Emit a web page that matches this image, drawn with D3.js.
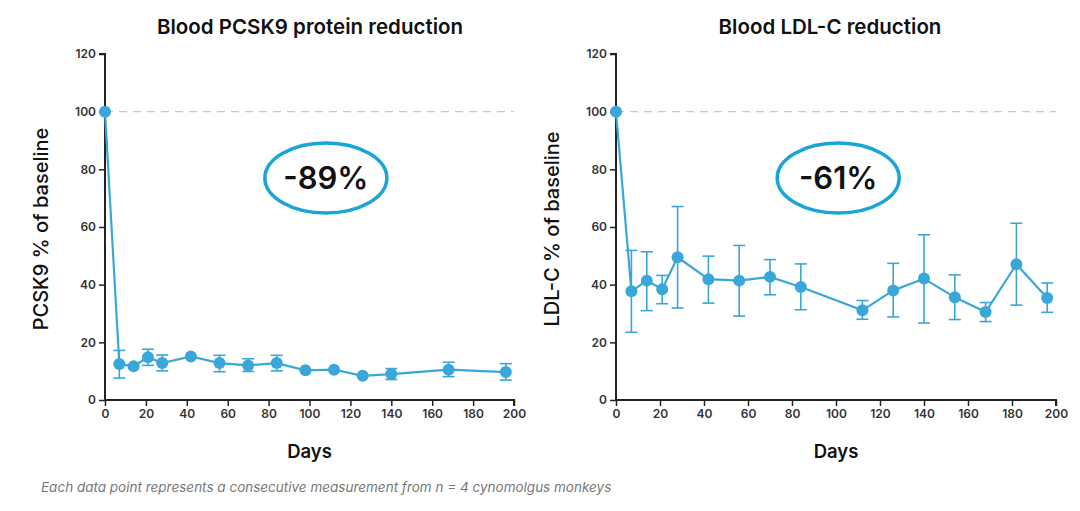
<!DOCTYPE html>
<html lang="en">
<head>
    <meta charset="UTF-8">
    <script src="https://d3js.org/d3.v7.min.js"></script>
    <style>
        body { margin: 0; background: #fff; }
        text { font-family: Inter, "Open Sans", sans-serif; }
    </style>
</head>
<body>
<div id="chart"></div>
<script>
    // days measured
    var pcskDays = [0, 7, 14, 21, 28, 42, 56, 70, 84, 98, 112, 126, 140, 168, 196];
    var pcskMean = [100, 12.5, 11.7, 14.8, 12.8, 15.1, 12.8, 12.0, 12.8, 10.3, 10.5, 8.4, 9.0, 10.5, 9.7];
    var pcskHigh = [null, 17.2, null, 17.6, 15.6, null, 15.5, 14.3, 15.5, null, null, null, 10.9, 13.1, 12.6];
    var pcskLow  = [null, 7.6, null, 12.0, 10.1, null, 9.8, 9.9, 10.1, null, null, null, 7.1, 8.1, 6.9];

    var ldlDays = [0, 7, 14, 21, 28, 42, 56, 70, 84, 112, 126, 140, 154, 168, 182, 196];
    var ldlMean = [100, 37.7, 41.4, 38.4, 49.5, 41.9, 41.4, 42.7, 39.2, 31.1, 38.0, 42.1, 35.6, 30.5, 47.1, 35.4];
    var ldlHigh = [null, 51.9, 51.4, 43.2, 67.1, 49.9, 53.6, 48.7, 47.2, 34.5, 47.4, 57.3, 43.4, 33.8, 61.3, 40.6];
    var ldlLow  = [null, 23.5, 31.0, 33.4, 31.9, 33.6, 29.1, 36.5, 31.3, 28.0, 28.8, 26.7, 27.9, 27.2, 32.9, 30.4];

    var xTicks = [0, 20, 40, 60, 80, 100, 120, 140, 160, 180, 200];
    var yTicks = [0, 20, 40, 60, 80, 100, 120];

    var blue = "#3aa7d9";

    var svg = d3.select("#chart")
        .append("svg")
            .attr("width", 1080)
            .attr("height", 511);

    function drawPanel(opt) {
        var x = d3.scaleLinear().domain([0, 200]).range([opt.left, opt.right]);
        var y = d3.scaleLinear().domain([0, 120]).range([400, 54]);
        var g = svg.append("g");

        // baseline
        g.append("line")
            .attr("x1", x(0)).attr("x2", x(200))
            .attr("y1", y(100)).attr("y2", y(100))
            .attr("stroke", "#c8c8c8")
            .attr("stroke-width", 1.2)
            .attr("stroke-dasharray", "8,6");

        var xAxis = g.append("g")
            .attr("transform", "translate(0," + y(0) + ")")
            .call(d3.axisBottom(x).tickValues(xTicks).tickSize(6).tickPadding(3));
        var yAxis = g.append("g")
            .attr("transform", "translate(" + x(0) + ",0)")
            .call(d3.axisLeft(y).tickValues(yTicks).tickSize(6).tickPadding(3));

        [xAxis, yAxis].forEach(function(a) {
            a.select(".domain").attr("stroke", "#222").attr("stroke-width", 2);
            a.selectAll(".tick line").attr("stroke", "#222").attr("stroke-width", 1.5);
            a.selectAll(".tick text")
                .attr("fill", "#333")
                .style("font-size", "12px")
                .style("font-weight", 600);
        });
        yAxis.select(".domain").attr("d", "M-6," + y(120) + "H0V" + y(0));
        xAxis.select(".domain").attr("d", "M" + x(0) + ",0H" + x(200) + "V6");

        var pts = opt.days.map(function(d, i) {
            return {day: d, mean: opt.mean[i], hi: opt.high[i], lo: opt.low[i]};
        });

        // error bars
        var eb = g.selectAll(".err")
            .data(pts.filter(function(d) { return d.hi != null; }))
            .enter().append("g")
            .attr("stroke", blue)
            .attr("stroke-width", 1.6);
        eb.append("line")
            .attr("x1", function(d) { return x(d.day); })
            .attr("x2", function(d) { return x(d.day); })
            .attr("y1", function(d) { return y(d.hi); })
            .attr("y2", function(d) { return y(d.lo); });
        ["hi", "lo"].forEach(function(k) {
            eb.append("line")
                .attr("x1", function(d) { return x(d.day) - 6; })
                .attr("x2", function(d) { return x(d.day) + 6; })
                .attr("y1", function(d) { return y(d[k]); })
                .attr("y2", function(d) { return y(d[k]); });
        });

        var line = d3.line()
            .x(function(d) { return x(d.day); })
            .y(function(d) { return y(d.mean); });

        g.append("path")
            .datum(pts)
            .attr("d", line)
            .attr("fill", "none")
            .attr("stroke", blue)
            .attr("stroke-width", 2.2);

        g.selectAll(".pt")
            .data(pts)
            .enter().append("circle")
            .attr("cx", function(d) { return x(d.day); })
            .attr("cy", function(d) { return y(d.mean); })
            .attr("r", 6)
            .attr("fill", blue);

        // titles and labels
        var mid = (opt.left + opt.right) / 2;
        g.append("text")
            .attr("x", opt.titleX).attr("y", 34)
            .attr("text-anchor", "middle")
            .style("font-size", "20.5px")
            .style("font-weight", 600)
            .attr("fill", "#111")
            .text(opt.title);

        g.append("text")
            .attr("x", mid).attr("y", 458)
            .attr("text-anchor", "middle")
            .style("font-size", "18.5px")
            .style("font-weight", 600)
            .attr("fill", "#111")
            .text("Days");

        g.append("text")
            .attr("transform", "translate(" + opt.yLabelX + "," + 229 + ") rotate(-90)")
            .attr("text-anchor", "middle")
            .style("font-size", "20px")
            .style("font-weight", 500)
            .attr("fill", "#111")
            .text(opt.yLabel);

        // callout
        var cx = x(opt.callDay), cy = y(77);
        g.append("ellipse")
            .attr("cx", cx).attr("cy", cy)
            .attr("rx", 61).attr("ry", 35)
            .attr("fill", "none")
            .attr("stroke", "#1aa5d8")
            .attr("stroke-width", 3.5);
        g.append("text")
            .attr("x", cx).attr("y", cy + 11)
            .attr("text-anchor", "middle")
            .style("font-size", "31px")
            .style("font-weight", 600)
            .attr("fill", "#111")
            .text(opt.callout);
    }

    drawPanel({
        left: 105, right: 514,
        days: pcskDays, mean: pcskMean, high: pcskHigh, low: pcskLow,
        title: "Blood PCSK9 protein reduction", titleX: 310,
        yLabel: "PCSK9 % of baseline", yLabelX: 48,
        callout: "-89%", callDay: 108
    });

    drawPanel({
        left: 616, right: 1056,
        days: ldlDays, mean: ldlMean, high: ldlHigh, low: ldlLow,
        title: "Blood LDL-C reduction", titleX: 830,
        yLabel: "LDL-C % of baseline", yLabelX: 559,
        callout: "-61%", callDay: 101
    });

    svg.append("text")
        .attr("x", 41).attr("y", 492)
        .style("font-size", "13.5px")
        .style("font-style", "italic")
        .attr("fill", "#777")
        .text("Each data point represents a consecutive measurement from n = 4 cynomolgus monkeys");
</script>
</body>
</html>
